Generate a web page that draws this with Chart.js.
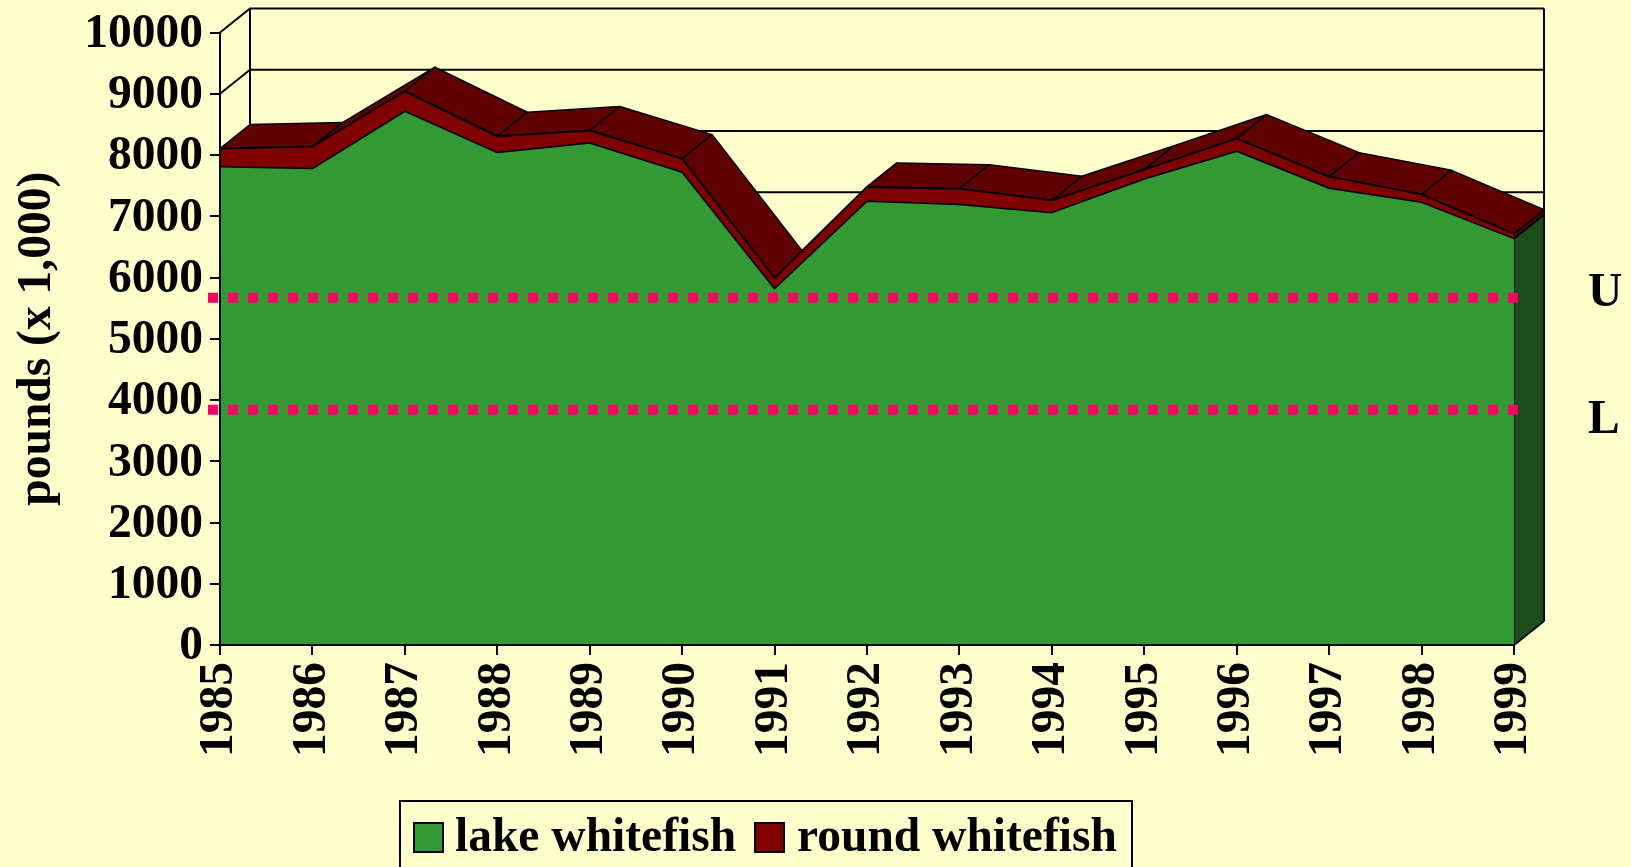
<!DOCTYPE html>
<html>
<head>
<meta charset="utf-8">
<style>html,body{margin:0;padding:0;background:#ffffcc;overflow:hidden}canvas{display:block}</style>
<script src="https://cdn.jsdelivr.net/npm/chart.js@4"></script>
</head>
<body>
<canvas id="c" width="1631" height="867"></canvas>
<script>
const years = ['1985','1986','1987','1988','1989','1990','1991','1992','1993','1994','1995','1996','1997','1998','1999'];
const lakeWhitefish = [7810,7778,8714,8039,8197,7717,5817,7244,7190,7059,7609,8061,7456,7227,6634];
const roundWhitefish = [295,359,327,267,202,224,175,235,261,201,152,207,191,131,82];
const limitValues = [5670,3840];
const limitLabels = ['U','L'];
const FONT = 'bold 47.5px "Liberation Serif"';
const DX = 30, DY = 24;
const GREEN = '#339933', RED = '#800000', TOP = '#600000', SIDE_G = '#1a4d1a', SIDE_R = '#4d0000';

const scene = {
  id: 'scene',
  afterLayout(chart) {
    // nudge the y tick labels down to sit on their ticks as in the reference
    const s = chart.scales.y;
    const orig = s.getLabelItems.bind(s);
    s.getLabelItems = ca => orig(ca).map(it => ({...it, textOffset: it.textOffset + 2}));
  },
  beforeDatasetsDraw(chart) {
    const {ctx, scales: {x, y}} = chart;
    const L = x.getPixelForValue(0), R = x.getPixelForValue(years.length - 1);
    ctx.save();
    ctx.strokeStyle = '#000'; ctx.lineWidth = 2;
    ctx.beginPath();
    y.ticks.forEach(t => {
      const py = y.getPixelForValue(t.value);
      ctx.moveTo(L, py); ctx.lineTo(L + DX, py - DY); ctx.lineTo(R + DX, py - DY);
    });
    ctx.moveTo(L + DX, y.getPixelForValue(10000) - DY); ctx.lineTo(L + DX, y.getPixelForValue(0) - DY);
    ctx.moveTo(R + DX, y.getPixelForValue(10000) - DY); ctx.lineTo(R + DX, y.getPixelForValue(0) - DY);
    ctx.moveTo(R, y.getPixelForValue(0)); ctx.lineTo(R + DX, y.getPixelForValue(0) - DY);
    ctx.stroke();
    const n = years.length - 1;
    const y0 = y.getPixelForValue(0), y1 = y.getPixelForValue(lakeWhitefish[n]), y2 = y.getPixelForValue(lakeWhitefish[n] + roundWhitefish[n]);
    ctx.lineWidth = 1.5; ctx.lineJoin = 'round';
    const quad = (pts, fill) => {
      ctx.beginPath();
      pts.forEach((p, i) => i ? ctx.lineTo(p[0], p[1]) : ctx.moveTo(p[0], p[1]));
      ctx.closePath(); ctx.fillStyle = fill; ctx.fill(); ctx.stroke();
    };
    quad([[R,y0],[R+DX,y0-DY],[R+DX,y1-DY],[R,y1]], SIDE_G);
    quad([[R,y1],[R+DX,y1-DY],[R+DX,y2-DY],[R,y2]], SIDE_R);
    for (let i = 0; i < n; i++) {
      const xa = x.getPixelForValue(i), xb = x.getPixelForValue(i + 1);
      const ya = y.getPixelForValue(lakeWhitefish[i] + roundWhitefish[i]);
      const yb = y.getPixelForValue(lakeWhitefish[i + 1] + roundWhitefish[i + 1]);
      quad([[xa,ya],[xb,yb],[xb+DX,yb-DY],[xa+DX,ya-DY]], TOP);
    }
    ctx.restore();
  },
  afterDatasetsDraw(chart) {
    const {ctx, scales: {x, y}} = chart;
    ctx.save();
    ctx.strokeStyle = '#ff0066'; ctx.lineWidth = 10; ctx.setLineDash([10,10]);
    limitValues.forEach(v => {
      const py = y.getPixelForValue(v);
      ctx.beginPath(); ctx.moveTo(x.left - 12, py); ctx.lineTo(x.right + 4, py); ctx.stroke();
    });
    ctx.setLineDash([]);
    ctx.fillStyle = '#000'; ctx.font = FONT; ctx.textAlign = 'left'; ctx.textBaseline = 'alphabetic';
    limitLabels.forEach((t, i) => {
      ctx.fillText(t, 1588, y.getPixelForValue(limitValues[i]) + (i === 0 ? 8 : 23));
    });
    ctx.strokeStyle = '#000'; ctx.lineWidth = 2;
    ctx.strokeRect(400, 801, 732, 120);
    const swX = [414, 755], txX = [455, 797];
    chart.data.datasets.forEach((d, i) => {
      ctx.fillStyle = d.backgroundColor;
      ctx.fillRect(swX[i], 823, 29, 29);
      ctx.strokeRect(swX[i], 823, 29, 29);
      ctx.fillStyle = '#000';
      ctx.fillText(d.label, txX[i], 851);
    });
    ctx.restore();
  }
};

const tickFont = {family:'"Liberation Serif"',size:47.5,weight:'bold'};
new Chart(document.getElementById('c'), {
  type: 'line',
  data: {
    labels: years,
    datasets: [
      {label:'lake whitefish', data: lakeWhitefish, backgroundColor: GREEN, borderColor:'#000', borderWidth:1.5, fill:'origin', pointRadius:0, tension:0, clip:false, borderJoinStyle:'round'},
      {label:'round whitefish', data: roundWhitefish, backgroundColor: RED, borderColor:'#000', borderWidth:2, fill:'-1', pointRadius:0, tension:0, clip:false, borderJoinStyle:'round'}
    ]
  },
  plugins: [scene],
  options: {
    responsive:false, animation:false,
    layout:{padding:{top:32.5,right:117,left:0,bottom:0}},
    plugins:{legend:{display:false},tooltip:{enabled:false}},
    scales:{
      x:{
        offset:false,
        afterFit(s){s.height=222;s.paddingLeft=0;s.paddingRight=0;},
        grid:{drawOnChartArea:false,color:'#000',lineWidth:2,tickLength:10,tickColor:'#000',z:1},
        border:{color:'#000',width:2,z:1},
        ticks:{color:'#000',font:tickFont,minRotation:90,maxRotation:90,autoSkip:false,padding:7}
      },
      y:{
        stacked:true,min:0,max:10000,
        afterFit(s){s.width=220;s.paddingTop=0;s.paddingBottom=0;},
        grid:{drawOnChartArea:false,color:'#000',lineWidth:2,tickLength:10,tickColor:'#000',z:1},
        border:{color:'#000',width:2,z:1},
        ticks:{stepSize:1000,color:'#000',font:tickFont,padding:7,autoSkip:false,callback:v=>String(v)},
        title:{display:true,text:'pounds (x 1,000)',color:'#000',font:tickFont,padding:{top:9,bottom:0}}
      }
    }
  }
});
</script>
</body>
</html>
